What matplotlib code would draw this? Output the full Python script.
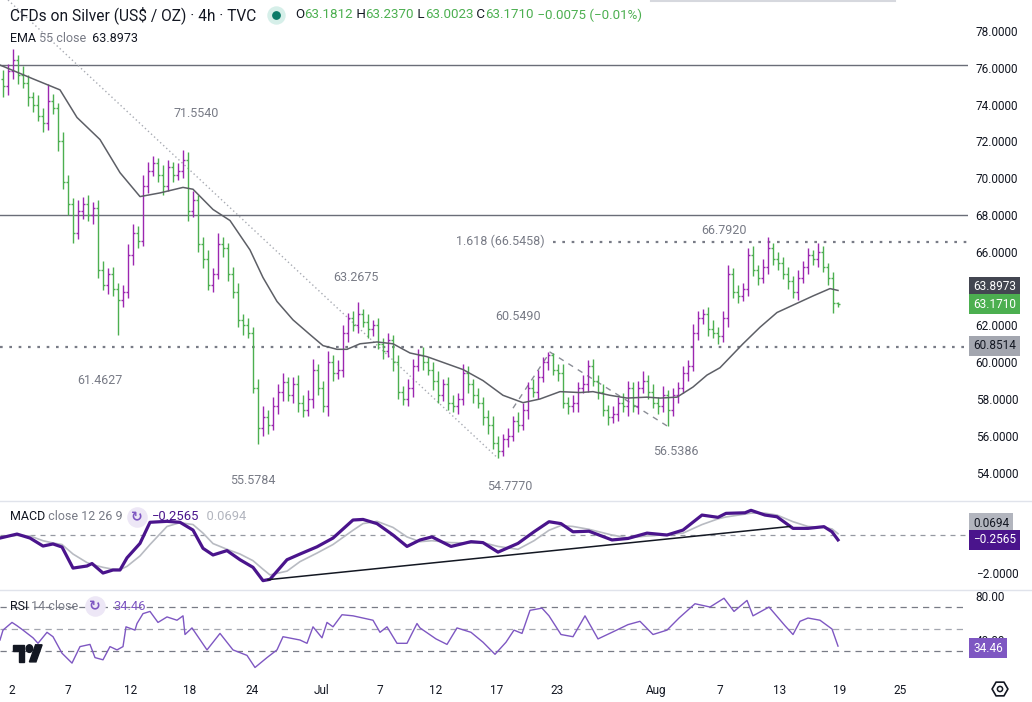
import numpy as np
import matplotlib.pyplot as plt
from matplotlib.collections import LineCollection
from matplotlib.patches import Polygon, Ellipse
import matplotlib.transforms as mtrans

plt.rcParams['font.family'] = ['Roboto', 'DejaVu Sans']

# ---- price bars (one bar per ~8h) ----
closes = [
    75.0, 75.8, 76.4, 75.6, 75.2, 74.4, 74.0, 73.4, 73.0, 74.2,
    73.8, 72.0, 69.8, 68.6, 67.0, 68.2, 68.6, 68.0, 68.4, 65.0,
    64.2, 64.8, 64.0, 63.4, 63.8, 65.8, 67.0, 66.6, 69.6, 70.4,
    70.8, 70.2, 69.6, 70.6, 70.2, 70.4, 71.0, 68.2, 68.8, 66.4,
    65.6, 64.2, 64.8, 66.4, 66.2, 64.8, 63.8, 62.3, 62.0, 61.6,
    58.6, 56.4, 57.0, 56.6, 57.6, 58.4, 58.9, 58.2, 58.8, 57.8,
    57.4, 58.0, 59.6, 58.6, 57.6, 60.0, 59.4, 59.6, 61.6, 62.4,
    62.0, 62.6, 62.2, 61.8, 62.0, 61.0, 60.6, 61.2, 60.0, 58.4,
    58.0, 58.6, 59.8, 60.4, 60.0, 59.6, 59.0, 58.2, 58.8, 57.8,
    57.6, 58.0, 59.4, 58.8, 58.2, 57.8, 57.0, 56.6, 55.6, 55.2,
    55.8, 56.0, 56.8, 56.6, 57.4, 58.6, 58.4, 59.2, 60.0, 60.4,
    59.6, 59.4, 57.8, 57.6, 57.8, 58.6, 58.8, 59.8, 59.0, 58.4,
    57.4, 57.0, 57.2, 57.8, 57.6, 58.6, 57.6, 58.6, 59.0, 58.4,
    57.8, 57.6, 58.2, 57.4, 58.2, 58.6, 59.4, 59.8, 61.6, 62.4,
    62.6, 61.8, 61.6, 61.4, 62.4, 64.8, 63.8, 63.6, 64.0, 65.8,
    65.0, 64.6, 65.2, 66.2, 65.6, 65.4, 64.8, 64.4, 63.8, 64.6,
    65.2, 65.8, 65.6, 66.0, 65.2, 64.6, 63.2, 63.17,
]
first_open = 75.4
up_wick = [
    0.5, 0.4, 0.6, 0.3, 0.5, 0.4, 0.3, 0.5, 0.4, 0.9,
    0.4, 0.3, 0.5, 0.4, 0.3, 0.6, 0.4, 0.5, 0.3, 0.4,
    0.5, 0.3, 0.4, 0.3, 0.4, 0.6, 0.5, 0.4, 0.6, 0.5,
    0.4, 0.3, 0.5, 0.4, 0.3, 0.4, 0.55, 0.4, 0.5, 0.3,
    0.4, 0.5, 0.3, 0.6, 0.4, 0.3, 0.4, 0.5, 0.3, 0.4,
    0.3, 0.5, 0.6, 0.4, 0.5, 0.4, 0.5, 0.3, 0.4, 0.5,
    0.4, 0.5, 0.6, 0.3, 0.4, 0.6, 0.4, 0.5, 0.4, 0.3,
    0.4, 0.67, 0.3, 0.4, 0.3, 0.4, 0.3, 0.4, 0.3, 0.4,
    0.3, 0.5, 0.4, 0.3, 0.4, 0.3, 0.4, 0.5, 0.3, 0.4,
    0.4, 0.3, 0.5, 0.4, 0.3, 0.4, 0.3, 0.4, 0.5, 0.4,
    0.3, 0.4, 0.3, 0.5, 0.4, 0.3, 0.5, 0.4, 0.3, 0.15,
    0.1, 0.3, 0.5, 0.3, 0.4, 0.3, 0.5, 0.3, 0.4, 0.3,
    0.4, 0.3, 0.4, 0.3, 0.5, 0.4, 0.3, 0.4, 0.5, 0.3,
    0.4, 0.3, 0.5, 0.3, 0.4, 0.3, 0.4, 0.3, 0.5, 0.4,
    0.3, 0.4, 0.5, 0.3, 0.4, 0.5, 0.3, 0.4, 0.3, 0.4,
    0.5, 0.3, 0.4, 0.59, 0.3, 0.4, 0.3, 0.4, 0.3, 0.4,
    0.3, 0.4, 0.3, 0.5, 0.3, 0.2, 0.3, 0.07,
]
dn_wick = [
    0.6, 0.5, 0.4, 0.5, 0.3, 0.5, 0.4, 0.3, 0.5, 0.4,
    0.3, 0.5, 0.4, 0.6, 0.5, 0.3, 0.4, 0.3, 0.5, 0.4,
    0.3, 0.5, 0.4, 1.94, 0.4, 0.3, 0.5, 0.4, 0.3, 0.4,
    0.3, 0.4, 0.5, 0.3, 0.4, 0.3, 0.4, 0.5, 0.3, 0.4,
    0.5, 0.3, 0.4, 0.3, 0.5, 0.4, 0.3, 0.4, 0.5, 0.3,
    0.3, 0.82, 0.4, 0.5, 0.3, 0.4, 0.5, 0.3, 0.4, 0.5,
    0.4, 0.3, 0.5, 0.4, 0.3, 0.5, 0.4, 0.3, 0.4, 0.5,
    0.3, 0.4, 0.3, 0.5, 0.4, 0.3, 0.4, 0.3, 0.5, 0.4,
    0.3, 0.4, 0.5, 0.3, 0.4, 0.3, 0.5, 0.4, 0.3, 0.4,
    0.3, 0.4, 0.3, 0.5, 0.4, 0.3, 0.4, 0.5, 0.3, 0.42,
    0.3, 0.4, 0.3, 0.4, 0.3, 0.5, 0.3, 0.4, 0.3, 0.4,
    0.3, 0.4, 0.3, 0.4, 0.3, 0.5, 0.3, 0.4, 0.3, 0.4,
    0.3, 0.4, 0.3, 0.4, 0.3, 0.5, 0.3, 0.4, 0.3, 0.4,
    0.3, 0.4, 0.3, 0.86, 0.3, 0.4, 0.3, 0.4, 0.3, 0.4,
    0.3, 0.4, 0.3, 0.4, 0.3, 0.5, 0.3, 0.4, 0.3, 0.4,
    0.3, 0.4, 0.3, 0.4, 0.3, 0.4, 0.3, 0.4, 0.3, 0.4,
    0.3, 0.4, 0.3, 0.4, 0.3, 0.4, 0.5, 0.17,
]

# EMA 55 close (bar index, value)
ema_idx = [-0.6, 6, 11.4, 14.8, 19.4, 23.4, 27.4, 31.4, 36, 38, 42, 45.4, 49.4, 52,
           54.8, 58, 61.4, 64, 66.8, 68.8, 71.4, 74.8, 78, 81.4, 84.8, 92, 96, 100,
           104, 107.4, 111.4, 115.4, 118, 121.4, 124.8, 128.8, 131.4, 134.8, 138,
           140.8, 143.4, 148, 151.4, 154.8, 158.8, 162, 165.4, 167]
ema_val = [76.15, 75.4, 74.8, 73.3, 72.1, 70.3, 69.0, 69.2, 69.5, 69.4, 68.3, 67.7, 66.1, 64.6,
           63.3, 62.3, 61.5, 60.9, 60.7, 60.7, 61.0, 61.1, 61.0, 60.5, 60.3, 59.6, 59.0, 58.2,
           57.8, 58.0, 58.4, 58.35, 58.4, 58.2, 58.05, 58.1, 58.05, 58.1, 58.65,
           59.3, 59.7, 61.0, 61.9, 62.7, 63.2, 63.6, 64.0, 63.9]

# MACD 12 26 9
macd_idx = [-0.6, 2.8, 5.4, 8, 10, 11.8, 14, 16.8, 17.8, 20, 22, 23.4, 24.8, 27.4, 29.4,
            32.8, 35.4, 38, 40, 42, 44.8, 47.4, 50, 52, 53.4, 56.8, 59.4, 62.8, 66, 70,
            72, 74.8, 78, 80.8, 83.4, 85.8, 89.6, 93.6, 96, 99, 103, 106.2, 109.2, 111.6,
            114, 117.2, 121.8, 125, 128.8, 132.8, 136, 139.8, 143, 144.6, 148.4, 149.6,
            152.4, 154.8, 158, 161, 164.2, 165.8, 167]
macd_val = [-0.16, 0.05, -0.16, -0.58, -0.47, -0.63, -1.74, -1.63, -1.5, -2.0, -1.84, -1.84, -1.2,
            -0.44, 0.67, 0.72, 0.67, 0.26, -0.7, -1.05, -0.82, -1.3, -1.7, -2.4, -2.33, -1.3,
            -1.0, -0.62, -0.16, 0.79, 0.82, 0.6, 0.0, -0.6, -0.26, -0.1, -0.6, -0.35, -0.4,
            -0.9, -0.44, 0.17, 0.7, 0.6, 0.17, 0.2, -0.26, -0.18, 0.1, 0.0, 0.26, 1.05, 0.93,
            1.14, 1.17, 1.3, 1.05, 0.96, 0.35, 0.35, 0.44, 0.17, -0.2565]
signal_val = [-0.1, -0.02, -0.05, -0.3, -0.42, -0.5, -1.0, -1.45, -1.55, -1.7, -1.8, -1.82,
              -1.65, -1.1, -0.5, 0.45, 0.65, 0.55, 0.1, -0.45, -0.75, -1.0, -1.35, -1.8, -2.1,
              -1.9, -1.4, -0.95, -0.5, 0.25, 0.6, 0.72, 0.4, -0.1, -0.35, -0.3, -0.4, -0.42,
              -0.4, -0.6, -0.75, -0.3, 0.25, 0.5, 0.45, 0.3, 0.0, -0.15, -0.05, 0.02, 0.1, 0.55,
              0.85, 0.95, 1.1, 1.15, 1.15, 1.05, 0.7, 0.45, 0.4, 0.32, 0.0694]

# RSI 14
rsi_idx = [-0.6, 0, 1.8, 2.8, 4, 6, 7, 8.8, 10, 11.8, 13.8, 15.4, 17.4, 18.4, 20, 21.4, 22.8,
           24, 24.6, 26.4, 26.8, 28, 29.4, 31, 32.8, 34.8, 36, 36.4, 37.8, 40.8, 43.4, 46,
           48.8, 50.4, 52.8, 54.8, 56, 59.4, 60.8, 62, 63.8, 64.8, 66, 67.8, 70, 72, 74, 75.4,
           76.8, 78.8, 80.8, 82.8, 83.4, 86.6, 88.8, 90.8, 93.6, 96, 98.4, 100.6, 102.2,
           103.8, 105.4, 107.8, 109.2, 111.6, 114, 116.4, 119, 121.8, 125, 127.4, 130,
           132.8, 135.2, 138.4, 141.4, 144.2, 146.2, 148.8, 150, 153.2, 156.4, 158, 159.4,
           161, 163.4, 165.8, 167]
rsi_val = [40, 49, 56, 53, 49, 42, 37, 47, 43, 28, 19, 34, 36, 24, 22, 34, 31, 34, 52, 49, 55,
           64, 66, 56, 61, 58, 62, 45, 51, 31, 46, 31, 26, 15, 24, 31, 43, 40, 37, 52, 42, 56,
           52, 63, 62, 60, 58, 47, 52, 37, 37, 55, 51, 41, 36, 51, 47, 38, 27, 38, 49, 46, 67,
           69, 62, 45, 43, 62, 41, 47, 54, 57, 45, 49, 60, 73, 70, 78, 66, 76, 62, 70, 53, 45,
           57, 60, 58, 50, 34.46]

date_idx = [1.8, 13, 25.6, 37.4, 49.8, 63.8, 75.4, 86.6, 98.8, 110.8, 130.6, 143.4, 155.4, 167.4, 179.4]
date_labels = ['2', '7', '12', '18', '24', 'Jul', '7', '12', '17', '23', 'Aug', '7', '13', '19', '25']

# pivot labels on the chart (bar index, price, text)
pivots = [(38.6, 73.54, '71.5540'), (19.4, 59.03, '61.4627'), (70.6, 64.63, '63.2675'),
          (50.0, 53.55, '55.5784'), (103.0, 62.46, '60.5490'), (101.4, 53.22, '54.7770'),
          (134.6, 55.12, '56.5386'), (144.2, 67.18, '66.7920')]

DARK = '#131722'
GRAY = '#787b86'
UP = '#9c27b0'
DOWN = '#4caf50'

W, H = 1032, 702
fig = plt.figure(figsize=(W / 100, H / 100), dpi=100)
fig.patch.set_facecolor('white')
XL = (-0.6, 193.0)
pw = 968 / W


def style(ax):
    ax.set_xlim(*XL)
    for s in ax.spines.values():
        s.set_visible(False)
    ax.yaxis.tick_right()
    ax.tick_params(axis='y', length=0, pad=5.5, labelsize=8.5, labelcolor=DARK)
    ax.tick_params(axis='x', length=0)
    ax.set_xticks([])


def box(ax, y, s, fc, tc):
    tr = mtrans.blended_transform_factory(ax.transAxes, ax.transData)
    ax.text(1.0052, y, s, transform=tr, fontsize=8.5, color=tc, va='center', ha='left',
            clip_on=False, zorder=6,
            bbox=dict(boxstyle='square,pad=0.32', fc=fc, ec='none'))


# ---- price pane ----
ax = fig.add_axes([0, 1 - 500 / H, pw, 500 / H])
style(ax)
ax.set_ylim(52.51, 79.685)
ticks = [54, 56, 58, 60, 62, 66, 68, 70, 72, 74, 76, 78]
ax.set_yticks(ticks)
ax.set_yticklabels([f'{t:.4f}' for t in ticks])

c = np.array(closes)
o = np.r_[first_open, c[:-1]]
hi = np.maximum(o, c) + np.array(up_wick)
lo = np.minimum(o, c) - np.array(dn_wick)
idx = np.arange(len(c))
segs, cols = [], []
for i in idx:
    col = UP if c[i] >= o[i] else DOWN
    segs += [[(i, lo[i]), (i, hi[i])], [(i - 0.45, o[i]), (i, o[i])], [(i, c[i]), (i + 0.45, c[i])]]
    cols += [col] * 3
ax.add_collection(LineCollection(segs, colors=cols, linewidths=1.0, zorder=3))

ax.plot(ema_idx, ema_val, color='#5d5f66', lw=1.1, zorder=4)

ax.axhline(76.14, color='#6a6d78', lw=1.0)
ax.axhline(68.0, color='#6a6d78', lw=1.0)
ax.axhline(60.8514, color=GRAY, lw=1.6, ls=(0, (1.2, 3)))
ax.hlines(66.5458, 110, XL[1], color=GRAY, lw=1.6, ls=(0, (1.2, 3)))
ax.plot([1, 99], [79.685, 54.777], color='#a8abb3', lw=1.0, ls=(0, (1, 2)))
ax.plot([102, 109.4, 132.8], [57.5, 60.549, 56.5386], color='#8a8d96', lw=1.0, ls=(0, (4, 4)))

for xi, yi, s in pivots:
    ax.text(xi, yi, s, color=GRAY, fontsize=9, ha='center', va='center')
ax.text(99.4, 66.5458, '1.618 (66.5458)', color=GRAY, fontsize=9, ha='center', va='center')

box(ax, 64.09, '63.8973', '#434651', 'white')
box(ax, 63.16, '63.1710', DOWN, 'white')
box(ax, 60.88, '60.8514', '#a3a6af', DARK)

# ---- MACD pane ----
ax2 = fig.add_axes([0, 1 - 589 / H, pw, 88 / H])
style(ax2)
ax2.set_ylim(-2.84, 1.79)
ax2.set_yticks([-2])
ax2.set_yticklabels(['\u22122.0000'])
ax2.axhline(0, color='#9598a1', lw=0.9, ls=(0, (4, 4)))
ax2.plot(macd_idx, signal_val, color='#b8bbc2', lw=1.2)
ax2.plot(macd_idx, macd_val, color='#4a148c', lw=2.3)
ax2.plot([53, 157.4], [-2.35, 0.45], color=DARK, lw=1.1)
box(ax2, 0.63, '0.0694', '#b2b5be', DARK)
box(ax2, -0.26, '\u22120.2565', '#4a148c', 'white')

# ---- RSI pane ----
ax3 = fig.add_axes([0, 1 - 672 / H, pw, 82 / H])
style(ax3)
ax3.set_ylim(10.9, 85.5)
ax3.set_yticks([80, 40])
ax3.set_yticklabels(['80.00', '40.00'])
for lvl, lc in [(70, '#787b86'), (50, '#a3a6af'), (30, '#787b86')]:
    ax3.axhline(lvl, color=lc, lw=0.9, ls=(0, (5, 4)))
ax3.plot(rsi_idx, rsi_val, color='#7e57c2', lw=1.0)
box(ax3, 32.7, '34.46', '#7e57c2', 'white')
ax3.set_xticks(date_idx)
ax3.set_xticklabels(date_labels)
ax3.tick_params(axis='x', length=0, pad=8.5, labelsize=8.5, labelcolor=DARK)

# ---- overlay in pixel coordinates for headers, separators, icons ----
ov = fig.add_axes([0, 0, 1, 1], zorder=10)
ov.set_xlim(0, W)
ov.set_ylim(H, 0)
ov.axis('off')
ov.patch.set_alpha(0)

sep = '#e0e3eb'
for yy in (500.5, 589.5):
    ov.plot([0, W], [yy, yy], color=sep, lw=1)
ov.plot([651, 895], [0.8, 0.8], color='#d6d8de', lw=1.5)


def chain(x, y, parts, size):
    t = ov.text(x, y, parts[0][0], color=parts[0][1], fontsize=size, va='center', ha='left')
    for s, col in parts[1:]:
        t = ov.annotate(s, xy=(1, 0.5), xycoords=t, va='center', ha='left', color=col,
                        fontsize=size)
    return t


chain(10, 15, [('CFDs on Silver (US$ / OZ) \u00b7 4h \u00b7 TVC', DARK)], 11.2)
ov.scatter([276], [15], s=150, color='#d6efe9', zorder=11)
ov.scatter([276], [15], s=28, color='#0b7b68', zorder=12)
chain(295, 15, [('O', DARK), ('63.1812', DOWN), (' H', DARK), ('63.2370', DOWN), (' L', DARK),
                ('63.0023', DOWN), (' C', DARK), ('63.1710', DOWN),
                (' \u22120.0075 (\u22120.01%)', DOWN)], 9.6)
chain(10, 39, [('EMA', DARK), (' 55 close', GRAY), ('  63.8973', DARK)], 9)
chain(10, 517, [('MACD', DARK), (' close 12 26 9', GRAY)], 9)
chain(152, 517, [('\u22120.2565', '#4a148c'), ('  0.0694', '#b2b5be')], 9.4)
chain(10, 606, [('RSI', DARK), (' 14 close', GRAY)], 9)
ov.text(113, 606, '34.46', color='#7e57c2', fontsize=9.4, va='center', ha='left')
for xx, yy in [(137, 517), (95, 606)]:
    ov.scatter([xx], [yy], s=190, color='#ede7f6', zorder=11)
    ov.text(xx, yy, '\u21bb', color='#7e57c2', fontsize=10, ha='center', va='center',
            family='DejaVu Sans', zorder=12, fontweight='bold')

# settings gear at the bottom right
ov.scatter([1000], [689], marker='H', s=130, facecolor='none', edgecolor=DARK, lw=1.2)
ov.scatter([1000], [689], marker='o', s=14, facecolor='none', edgecolor=DARK, lw=1.1)

# TradingView logo
sx, sy, ox, oy = 0.82, 0.95, 13, 641
def lp(pts):
    return [(ox + u * sx, oy + v * sy) for u, v in pts]
ov.add_patch(Polygon(lp([(0, 4), (14, 4), (14, 22), (7, 22), (7, 11), (0, 11)]), color=DARK))
ov.add_patch(Polygon(lp([(20, 22), (27.5, 4), (35.5, 4), (28, 22)]), color=DARK))
ov.add_patch(Ellipse((ox + 20 * sx, oy + 8 * sy), 8 * sx, 8 * sy, color=DARK))

fig.savefig('out.png', dpi=100)
